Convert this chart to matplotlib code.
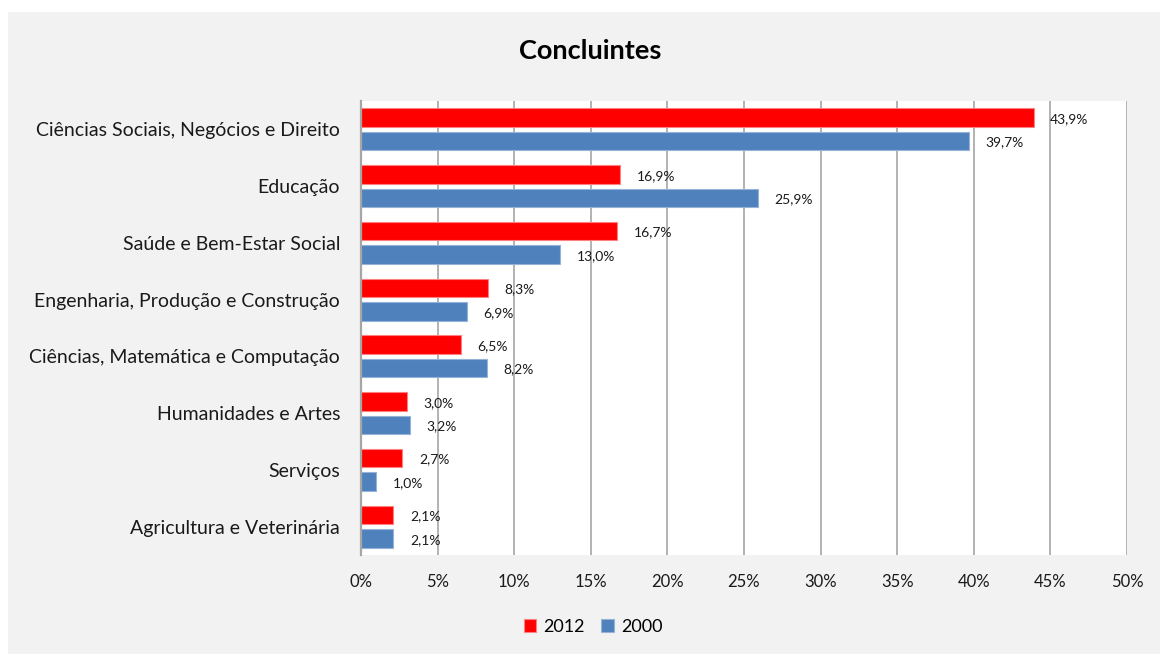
import matplotlib
matplotlib.use("Agg")
import matplotlib.pyplot as plt
from matplotlib.patches import Rectangle
import numpy as np

plt.rcParams['font.family'] = ['Lato', 'DejaVu Sans']

categories = ["Ciências Sociais, Negócios e Direito", "Educação", "Saúde e Bem-Estar Social",
              "Engenharia, Produção e Construção", "Ciências, Matemática e Computação",
              "Humanidades e Artes", "Serviços", "Agricultura e Veterinária"]
v2012 = [43.9, 16.9, 16.7, 8.3, 6.5, 3.0, 2.7, 2.1]
v2000 = [39.7, 25.9, 13.0, 6.9, 8.2, 3.2, 1.0, 2.1]
xticks = [0, 5, 10, 15, 20, 25, 30, 35, 40, 45, 50]
title = "Concluintes"

W, H = 1160, 654
fig = plt.figure(figsize=(W / 100, H / 100), dpi=100)
fig.patch.set_facecolor("white")
bg = Rectangle((8 / W, 0), 1 - 8 / W, (H - 12) / H, transform=fig.transFigure,
               facecolor="#F2F2F2", edgecolor="none", zorder=-10)
fig.add_artist(bg)

ax = fig.add_axes([361 / W, 99 / H, (1127 - 361) / W, (555 - 101) / H])
ax.set_facecolor("white")

y = np.arange(len(categories))
off = 0.207
h = 0.33
red, blue = "#FF0000", "#4F81BD"
ax.barh(y - off, v2012, height=h, color=red, edgecolor="#FF8080", linewidth=0.8, zorder=3, label="2012")
ax.barh(y + off, v2000, height=h, color=blue, edgecolor="#95B3D7", linewidth=0.8, zorder=3, label="2000")

def fmt(v):
    return f"{v:.1f}".replace(".", ",") + "%"

for yi, v in zip(y, v2012):
    ax.annotate(fmt(v), (v, yi - off), xytext=(12, -1), textcoords="offset points",
                ha="left", va="center", fontsize=10, color="#1a1a1a", zorder=4)
for yi, v in zip(y, v2000):
    ax.annotate(fmt(v), (v, yi + off), xytext=(12, -1), textcoords="offset points",
                ha="left", va="center", fontsize=10, color="#1a1a1a", zorder=4)

ax.set_xlim(0, 50)
ax.set_ylim(len(categories) - 0.5, -0.5)
ax.set_xticks(xticks)
ax.set_xticklabels([f"{t}%" for t in xticks], fontsize=12, color="#1a1a1a")
ax.set_yticks(y)
ax.set_yticklabels(categories, fontsize=14, color="#1a1a1a")
ax.tick_params(axis="both", length=0)
ax.tick_params(axis="y", pad=15)
ax.tick_params(axis="x", pad=13.5)
ax.grid(axis="x", color="#A6A6A6", linewidth=1.2, zorder=1)
for s in ["top", "right", "bottom"]:
    ax.spines[s].set_visible(False)
ax.spines["left"].set_color("#A6A6A6")
ax.spines["left"].set_linewidth(1.6)
ax.spines["left"].set_zorder(5)

fig.text(590 / W, 1 - 51 / H, title, ha="center", va="center", fontsize=19.5, fontweight="bold", color="black")

leg = fig.legend(loc="center", bbox_to_anchor=(593 / W, 1 - 627 / H), ncol=2, frameon=False,
                 fontsize=13, handlelength=0.7, handleheight=0.7, handletextpad=0.4, columnspacing=0.9)

fig.savefig("out.png", dpi=100, facecolor=fig.get_facecolor())
